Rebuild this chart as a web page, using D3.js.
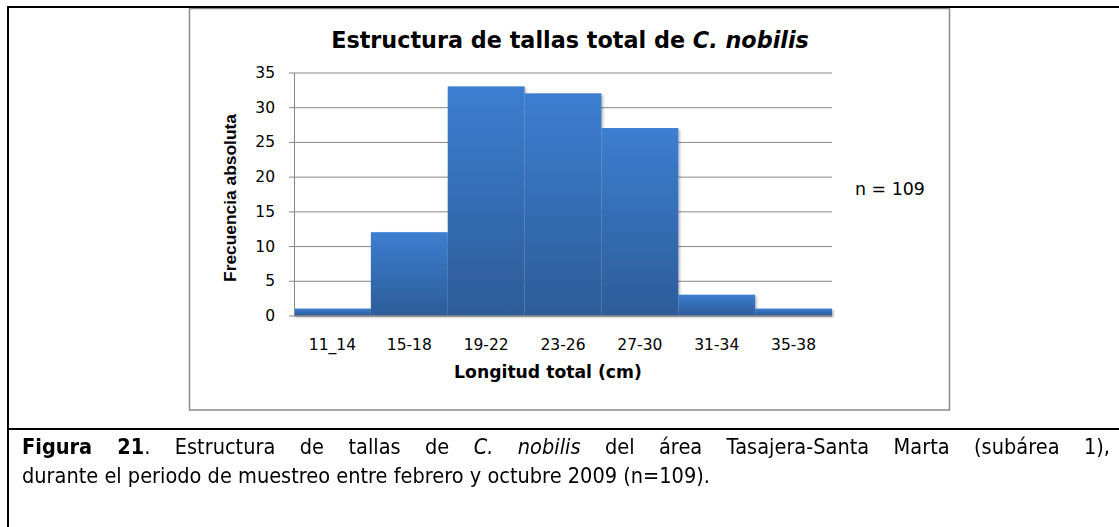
<!DOCTYPE html>
<html>
<head>
<meta charset="utf-8">
<script src="https://cdn.jsdelivr.net/npm/d3@7"></script>
<style>
    html, body { margin: 0; padding: 0; background: #fff; }
    #wrap { position: relative; width: 1119px; height: 527px; overflow: hidden; }
    svg { position: absolute; left: 0; top: 0; }
    .axis path, .axis line { stroke: #868686; }
    .axis text { fill: #000; font-family: "DejaVu Sans", Verdana, sans-serif; font-size: 15.5px; }
    .grid line { stroke: #868686; }
    .grid path { display: none; }
    #caption {
        position: absolute; left: 22px; top: 432px;
        font-family: "DejaVu Sans", Tahoma, sans-serif; font-size: 22px;
        line-height: 29px; color: #000;
        transform-origin: 0 0;
    }
    #caption .l1 { text-align: justify; text-align-last: justify; }
    #caption .l2 span { display: inline-block; }
</style>
</head>
<body>
<div id="wrap"></div>
<script>
(function () {
    const categories = ["11_14", "15-18", "19-22", "23-26", "27-30", "31-34", "35-38"];
    const counts = [1, 12, 33, 32, 27, 3, 1];
    const yTicks = [0, 5, 10, 15, 20, 25, 30, 35];
    const sampleSize = 109;

    const width = 1119;
    const height = 527;
    const plot = { left: 294, right: 832, top: 72.5, bottom: 315.5 };

    // scale a text's font-size so it spans the wanted width
    const fitWidth = function (sel, target) {
        const w = sel.node().getComputedTextLength();
        const fs = parseFloat(sel.style("font-size"));
        sel.style("font-size", (fs * target / w) + "px");
    };

    const wrap = d3.select("#wrap");
    const svg = wrap.append("svg")
        .attr("width", width)
        .attr("height", height);

    const defs = svg.append("defs");
    const grad = defs.append("linearGradient")
        .attr("id", "barFill")
        .attr("x1", 0).attr("y1", 0).attr("x2", 0).attr("y2", 1);
    grad.append("stop").attr("offset", "0%").attr("stop-color", "#3c7ed0");
    grad.append("stop").attr("offset", "100%").attr("stop-color", "#2d5c99");

    defs.append("filter")
        .attr("id", "shadow")
        .attr("x", "-5%").attr("y", "-5%").attr("width", "110%").attr("height", "115%")
        .append("feDropShadow")
        .attr("dx", 1.5).attr("dy", 1.5).attr("stdDeviation", 1)
        .attr("flood-color", "#000").attr("flood-opacity", 0.3);

    // frame of the figure table
    svg.append("rect")
        .attr("x", 189.5).attr("y", 8.5)
        .attr("width", 760).attr("height", 401.5)
        .attr("fill", "none")
        .attr("stroke", "#8a8a8a")
        .attr("stroke-width", 1.5);
    svg.append("line")
        .attr("x1", 7).attr("x2", width).attr("y1", 7).attr("y2", 7)
        .attr("stroke", "#000").attr("stroke-width", 2);
    svg.append("line")
        .attr("x1", 8).attr("x2", 8).attr("y1", 6).attr("y2", height)
        .attr("stroke", "#000").attr("stroke-width", 2);
    svg.append("line")
        .attr("x1", 7).attr("x2", width).attr("y1", 429).attr("y2", 429)
        .attr("stroke", "#000").attr("stroke-width", 2);

    // scales
    const x = d3.scaleBand()
        .domain(categories)
        .range([plot.left, plot.right])
        .padding(0);
    const y = d3.scaleLinear()
        .domain([0, 35])
        .range([plot.bottom, plot.top]);

    // grid
    svg.append("g")
        .attr("class", "grid")
        .attr("transform", "translate(" + plot.left + ",0)")
        .call(d3.axisLeft(y)
            .tickValues(yTicks)
            .tickFormat("")
            .tickSize(-(plot.right - plot.left)));

    // bars
    svg.append("g")
        .attr("filter", "url(#shadow)")
        .selectAll("rect")
        .data(counts)
        .join("rect")
        .attr("x", (d, i) => x(categories[i]))
        .attr("width", x.bandwidth())
        .attr("y", d => y(d))
        .attr("height", d => y(0) - y(d))
        .attr("fill", "url(#barFill)");

    // axes
    svg.append("g")
        .attr("class", "axis y")
        .attr("transform", "translate(" + plot.left + ",0)")
        .call(d3.axisLeft(y).tickValues(yTicks).tickSize(5).tickPadding(14).tickSizeOuter(0));

    svg.append("g")
        .attr("class", "axis x")
        .attr("transform", "translate(0," + plot.bottom + ")")
        .call(d3.axisBottom(x).tickSize(0).tickPadding(23).tickSizeOuter(0));

    // titles
    const title = svg.append("text")
        .attr("x", 570).attr("y", 48)
        .attr("text-anchor", "middle")
        .style("font-family", "'DejaVu Sans', Verdana, sans-serif")
        .style("font-weight", "bold")
        .style("font-size", "20px");
    title.append("tspan").text("Estructura de tallas total de ");
    title.append("tspan").style("font-style", "italic").text("C. nobilis");
    fitWidth(title, 478);

    const xLabel = svg.append("text")
        .attr("x", 548).attr("y", 378)
        .attr("text-anchor", "middle")
        .style("font-family", "'DejaVu Sans', Verdana, sans-serif")
        .style("font-weight", "bold")
        .style("font-size", "15px")
        .text("Longitud total (cm)");
    fitWidth(xLabel, 188);

    const yLabel = svg.append("text")
        .attr("transform", "translate(236,198) rotate(-90)")
        .attr("text-anchor", "middle")
        .style("font-family", "'Liberation Sans', Arial, sans-serif")
        .style("font-weight", "bold")
        .style("font-size", "17px")
        .text("Frecuencia absoluta");
    fitWidth(yLabel, 168);

    const nLabel = svg.append("text")
        .attr("x", 855).attr("y", 195)
        .style("font-family", "'DejaVu Sans', Verdana, sans-serif")
        .style("font-size", "15px")
        .text("n = " + sampleSize);
    fitWidth(nLabel, 70);

    // caption: Tahoma-like narrow text, squeezed horizontally
    const caption = wrap.append("div").attr("id", "caption");
    const l1 = caption.append("div").attr("class", "l1");
    l1.append("b").text("Figura 21");
    l1.append("span").text(". Estructura de tallas de ");
    l1.append("i").text("C. nobilis");
    l1.append("span").text(" del área Tasajera-Santa Marta (subárea 1),");
    const l2 = caption.append("div").attr("class", "l2");
    const l2span = l2.append("span")
        .text("durante el periodo de muestreo entre febrero y octubre 2009 (n=" + sampleSize + ").");
    const sx = 688 / l2span.node().offsetWidth;
    caption.style("width", (1088 / sx) + "px")
        .style("transform", "scaleX(" + sx + ")");
})();
</script>
</body>
</html>
